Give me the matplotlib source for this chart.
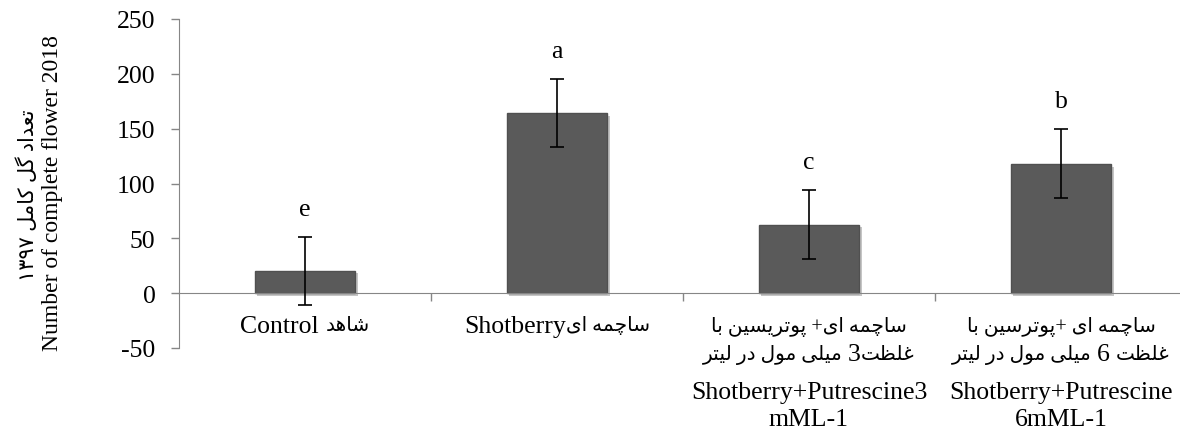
import re
import matplotlib
matplotlib.use('Agg')
import matplotlib.pyplot as plt
import matplotlib.patheffects as pe

plt.rcParams['font.family'] = ['Liberation Serif', 'DejaVu Sans']
plt.rcParams['axes.unicode_minus'] = False

# Data
values = [20.5, 164.5, 62.5, 118]
errors = [31, 31, 31.5, 31.5]
letters = ['e', 'a', 'c', 'b']
category_lines = [
    ['شاهد Control'],
    ['ساچمه ایShotberry'],
    ['ساچمه ای+ پوتریسین با', 'غلظت3 میلی مول در لیتر', 'Shotberry+Putrescine3', 'mML-1'],
    ['ساچمه ای +پوترسین با', 'غلظت 6 میلی مول در لیتر', 'Shotberry+Putrescine', '6mML-1'],
]
ylabel_fa = 'تعداد گل کامل ۱۳۹۷'
ylabel_en = 'Number of complete flower 2018'

# simple persian shaping (isolated, final, initial, medial)
FORMS = {
    'ا': ('\uFE8D', '\uFE8E', None, None),
    'ب': ('\uFE8F', '\uFE90', '\uFE91', '\uFE92'),
    'پ': ('\uFB56', '\uFB57', '\uFB58', '\uFB59'),
    'ت': ('\uFE95', '\uFE96', '\uFE97', '\uFE98'),
    'چ': ('\uFB7A', '\uFB7B', '\uFB7C', '\uFB7D'),
    'د': ('\uFEA9', '\uFEAA', None, None),
    'ر': ('\uFEAD', '\uFEAE', None, None),
    'س': ('\uFEB1', '\uFEB2', '\uFEB3', '\uFEB4'),
    'ش': ('\uFEB5', '\uFEB6', '\uFEB7', '\uFEB8'),
    'ظ': ('\uFEC5', '\uFEC6', '\uFEC7', '\uFEC8'),
    'ع': ('\uFEC9', '\uFECA', '\uFECB', '\uFECC'),
    'غ': ('\uFECD', '\uFECE', '\uFECF', '\uFED0'),
    'ک': ('\uFB8E', '\uFB8F', '\uFB90', '\uFB91'),
    'گ': ('\uFB92', '\uFB93', '\uFB94', '\uFB95'),
    'ل': ('\uFEDD', '\uFEDE', '\uFEDF', '\uFEE0'),
    'م': ('\uFEE1', '\uFEE2', '\uFEE3', '\uFEE4'),
    'ن': ('\uFEE5', '\uFEE6', '\uFEE7', '\uFEE8'),
    'ه': ('\uFEE9', '\uFEEA', '\uFEEB', '\uFEEC'),
    'و': ('\uFEED', '\uFEEE', None, None),
    'ی': ('\uFBFC', '\uFBFD', '\uFBFE', '\uFBFF'),
}
FA = '\u0600-\u06FF\uFB50-\uFEFF'


def shape(s):
    out = []
    for i, ch in enumerate(s):
        if ch not in FORMS:
            out.append(ch)
            continue
        f = FORMS[ch]
        prev = s[i - 1] if i > 0 else ''
        nxt = s[i + 1] if i + 1 < len(s) else ''
        jp = prev in FORMS and FORMS[prev][2] is not None
        jn = nxt in FORMS and f[2] is not None
        if jp and jn:
            out.append(f[3])
        elif jp:
            out.append(f[1])
        elif jn:
            out.append(f[2])
        else:
            out.append(f[0])
    return ''.join(out)


def visual(s):
    if not any(c in FORMS for c in s):
        return s
    parts = re.split(r'([A-Za-z0-9\u06F0-\u06F9\-]+)', shape(s))
    res = []
    for p in parts[::-1]:
        if re.fullmatch(r'[A-Za-z0-9\u06F0-\u06F9\-]+', p):
            res.append(p)
        else:
            res.append(p[::-1])
    return ''.join(res)


fs = 18.5      # latin text
fs_fa = 14.5   # persian text (DejaVu glyphs run large)
line_dy = [-23.5, -44, -71, -90.5]  # points below the zero line

fig = plt.figure(figsize=(11.8, 4.31), dpi=100)
ax = fig.add_axes([179 / 1180, 1 - 349 / 431, 1008 / 1180, 329 / 431])
x = list(range(len(values)))

bars = ax.bar(x, values, width=0.4, color='#5a5a5a', edgecolor='#505050', linewidth=1.0, zorder=2)
for b in bars:
    b.set_path_effects([pe.SimplePatchShadow(offset=(2, -2), alpha=0.25), pe.Normal()])
ax.errorbar(x, values, yerr=errors, fmt='none', ecolor='black', elinewidth=1.2,
            capsize=4.7, capthick=1.2, zorder=3)
for i in x:
    ax.annotate(letters[i], (i, values[i] + errors[i]), xytext=(0, 20), textcoords='offset points',
                ha='center', va='center', fontsize=fs)

ax.set_xlim(-0.5, 3.5)
ax.set_ylim(-50, 250)
ax.set_yticks(range(-50, 251, 50))
ax.tick_params(axis='y', labelsize=fs, direction='out', length=6, width=1, color='#868686', pad=11)

ax.spines['top'].set_visible(False)
ax.spines['right'].set_visible(False)
ax.spines['left'].set_color('#868686')
ax.spines['bottom'].set_color('#868686')
ax.spines['bottom'].set_position(('data', 0))

ax.set_xticks([])
ax.set_xticks([0.5, 1.5, 2.5], minor=True)
ax.tick_params(axis='x', which='minor', direction='out', length=6, width=1, color='#868686')

# category labels, line by line, persian runs in a smaller size
renderer = fig.canvas.get_renderer()
for i, lines in enumerate(category_lines):
    for k, line in enumerate(lines):
        vis = visual(line)
        runs = re.findall(r'[%s][%s +]*|[^%s]+' % (FA, FA, FA), vis)
        texts = []
        for r in runs:
            size = fs_fa if re.match('[%s]' % FA, r) else fs
            texts.append(ax.annotate(r, (i, 0), xytext=(0, line_dy[k]), textcoords='offset points',
                                     ha='left', va='center', fontsize=size))
        widths = [t.get_window_extent(renderer).width * 72 / fig.dpi for t in texts]
        x0 = -sum(widths) / 2
        for t, w in zip(texts, widths):
            t.set_position((x0, line_dy[k]))
            x0 += w

fig.text(28 / 1180, 1 - 195 / 431, visual(ylabel_fa), rotation=90, ha='center', va='center', fontsize=15)
fig.text(53 / 1180, 1 - 193 / 431, ylabel_en, rotation=90, ha='center', va='center', fontsize=17)

fig.savefig('out.png', dpi=100)
